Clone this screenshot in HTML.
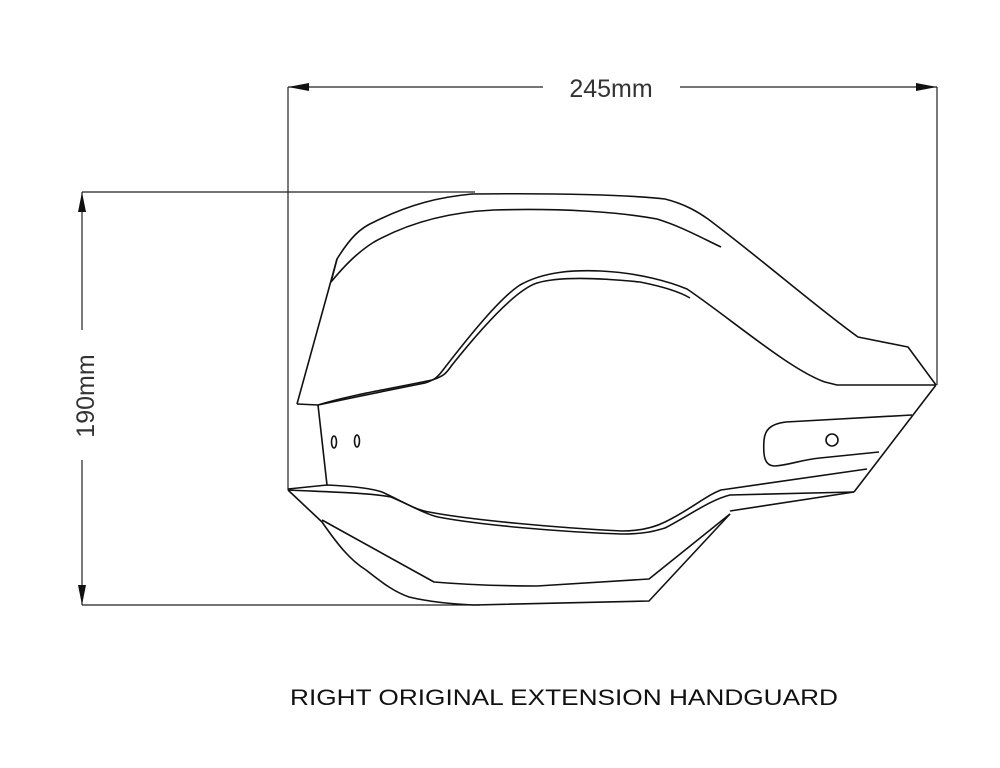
<!DOCTYPE html>
<html><head><style>
html,body{margin:0;padding:0;background:#fff;width:1000px;height:768px;overflow:hidden}
</style></head><body>
<svg width="1000" height="768" viewBox="0 0 1000 768" xmlns="http://www.w3.org/2000/svg">
<g stroke="#222" stroke-width="1.2" fill="none">
<!-- dimension lines -->
<line x1="288" y1="87" x2="288" y2="490"/>
<line x1="937" y1="87" x2="937" y2="385"/>
<line x1="288" y1="87" x2="543" y2="87"/>
<line x1="680" y1="87" x2="937" y2="87"/>
<line x1="82" y1="192" x2="475" y2="192"/>
<line x1="82" y1="605" x2="480" y2="605"/>
<line x1="82" y1="192" x2="82" y2="330"/>
<line x1="82" y1="460" x2="82" y2="605"/>
</g>
<g fill="#111">
<polygon points="288,87 309,83 309,91"/>
<polygon points="937,87 916,83 916,91"/>
<polygon points="82,192 78,212 86,212"/>
<polygon points="82,605 78,585 86,585"/>
</g>
<text x="611" y="97" font-family="Liberation Sans, sans-serif" font-size="25" fill="#333" text-anchor="middle" font-weight="300">245mm</text>
<text transform="translate(94,396) rotate(-90)" font-family="Liberation Sans, sans-serif" font-size="25" fill="#333" text-anchor="middle">190mm</text>
<g stroke="#111" stroke-width="1.6" fill="none" stroke-linejoin="round">
<!-- outer top -->
<path d="M331,282 L337,259 C350,238 360,228 374,222 C410,204 440,197 472,194 C560,193 630,195 665,199 C685,204 698,212 708,219 C760,258 820,310 858,337 L908,347 L936,385"/>
<path d="M337,259 L297,404"/>
<!-- inner top -->
<path d="M331,282 C345,265 358,252 374,242 C410,222 450,212 494,210 C560,208 620,212 657,219 C680,226 700,237 721,247"/>
<!-- hole outer -->
<path d="M297,404 L318,405 C350,398 390,390 425,383 C434,380 437,378 443,370 C470,335 500,298 520,285 C545,271 575,270 601,271 C640,273 670,282 687,289 C730,318 790,370 825,382 L837,385 L936,385"/>
<path d="M318,405 C350,395 395,388 432,380 C445,376 447,372 452,365 C480,330 515,290 537,283 C560,276 600,278 640,282 C665,287 680,292 690,298"/>
<!-- left vertical -->
<path d="M318,405 L327,485"/>
<ellipse cx="334" cy="442" rx="2.5" ry="6"/>
<ellipse cx="357" cy="441" rx="2.5" ry="6"/>
<!-- right edge -->
<path d="M936,385 L854,492"/>
<!-- slot -->
<path d="M912,415 L786,422 C770,424 765,430 764,440 C763,455 764,466 775,466 C790,465 800,460 820,458 L879,452"/>
<circle cx="832" cy="440" r="6"/>
<!-- bottom lines -->
<path d="M288,489 L327,485 C350,486 370,488 382,492 C400,500 415,510 429,512 C470,520 560,528 622,531 C640,531 655,527 665,522 C690,510 705,496 721,490 L867,469"/>
<path d="M288,490 C330,492 370,493 391,497 C410,505 425,514 438,517 C480,525 560,532 622,534 C645,534 655,531 665,528 C690,515 710,500 730,495 L854,492"/>
<!-- lower piece -->
<path d="M288,490 L322,522 C338,545 350,560 366,570 C385,585 395,592 409,597 C430,602 450,604 474,605 L649,601 L730,514"/>
<path d="M322,520 L434,582 C470,585 500,586 537,586 L649,579 L730,514"/>
<path d="M730,511 L854,492"/>
</g>
<text x="564" y="705" font-family="Liberation Sans, sans-serif" font-size="22" fill="#111" text-anchor="middle" textLength="548" lengthAdjust="spacingAndGlyphs">RIGHT ORIGINAL EXTENSION HANDGUARD</text>
</svg>
</body></html>
